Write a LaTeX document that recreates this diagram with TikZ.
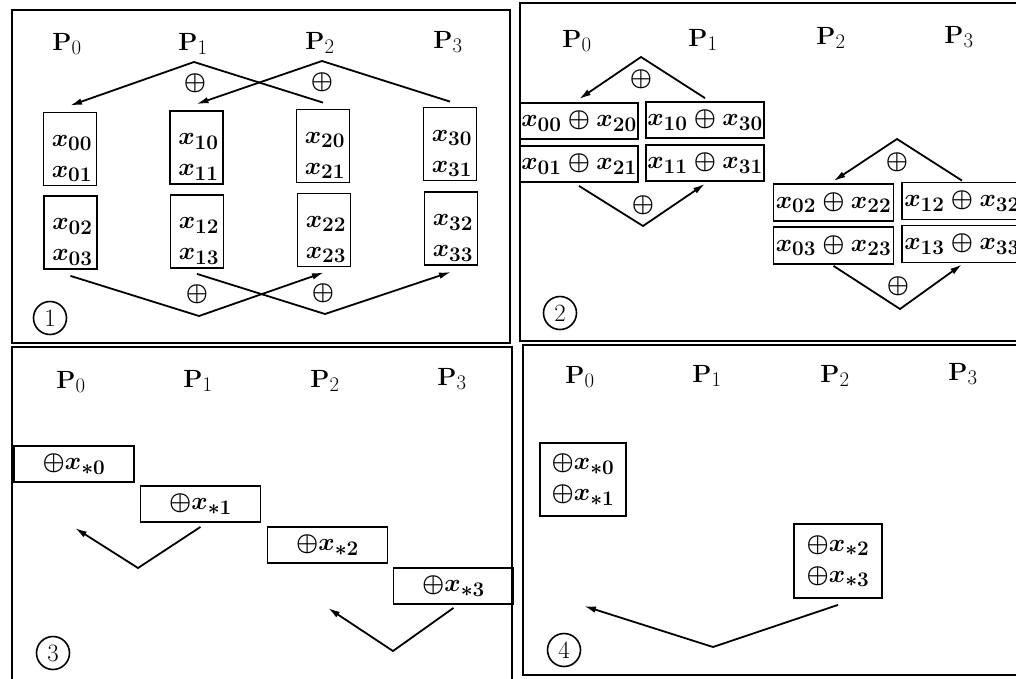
\documentclass[tikz,border=0pt]{standalone}
\usepackage{bm}
\usetikzlibrary{arrows.meta}
\begin{document}
\begin{tikzpicture}[x=1pt,y=-1pt,
  every node/.style={font=\fontsize{24.88}{31}\selectfont},
  frame/.style={line width=2.2pt},
  cell/.style={draw, line width=1.8pt, inner sep=0pt, align=center, font=\fontsize{24.88}{31}\selectfont\boldmath},
  tall/.style={cell, minimum width=53pt, minimum height=73pt, text width=44pt, align=right, execute at begin node={\rule{0pt}{30pt}}},
  wide/.style={cell, minimum width=118pt, minimum height=36pt},
  wider/.style={cell, minimum width=120pt, minimum height=37pt},
  lbl/.style={anchor=base},
  op/.style={inner sep=0pt, font=\fontsize{24.88}{31}\selectfont\boldmath},
  num/.style={draw, circle, line width=1.6pt, minimum size=33pt, inner sep=0pt},
  link/.style={line width=1.8pt},
  arr/.style={link, -{Latex[length=12pt,width=6.5pt]}},
]
\clip (0,0) rectangle (1016,678);
\fill[white] (0,0) rectangle (1016,678);

% ---------- frames ----------
\draw[frame] (12,10) rectangle (510,343);
\draw[frame] (520,3) rectangle (1030,341);
\draw[frame] (12,347) rectangle (512,690);
\draw[frame] (523,345) rectangle (1030,675);

% ---------- panel 1 ----------
\node[lbl] (p10) at (67,50) {$\mathbf{P}_0$};
\node[lbl] (p11) at (193,50) {$\mathbf{P}_1$};
\node[lbl] (p12) at (320,49) {$\mathbf{P}_2$};
\node[lbl] (p13) at (448,48) {$\mathbf{P}_3$};

\node[tall] (a00) at (70,149) {$x_{00}$\\$x_{01}$};
\node[tall] (a02) at (70.5,232.5) {$x_{02}$\\$x_{03}$};
\node[tall] (a10) at (196.5,147.5) {$x_{10}$\\$x_{11}$};
\node[tall] (a12) at (197,231.5) {$x_{12}$\\$x_{13}$};
\node[tall] (a20) at (323,146) {$x_{20}$\\$x_{21}$};
\node[tall] (a22) at (324,230) {$x_{22}$\\$x_{23}$};
\node[tall] (a30) at (450,144) {$x_{30}$\\$x_{31}$};
\node[tall] (a32) at (451,228.5) {$x_{32}$\\$x_{33}$};

\coordinate (t1) at (194,62);
\coordinate (t2) at (322,61);
\coordinate (b1) at (199,316);
\coordinate (b2) at (325,314);
\draw[arr] ([yshift=6pt]a20.north) -- (t1) -- ([yshift=6pt]a00.north);
\draw[arr] ([yshift=5pt]a30.north) -- (t2) -- ([yshift=6pt]a10.north);
\draw[arr] ([yshift=-6pt]a02.south) -- (b1) -- ([yshift=-5pt]a22.south);
\draw[arr] ([yshift=-5pt]a12.south) -- (b2) -- ([yshift=-6pt]a32.south);
\node[op] (o11) at (195,83) {$\oplus$};
\node[op] (o12) at (322,82) {$\oplus$};
\node[op] (o13) at (197,294) {$\oplus$};
\node[op] (o14) at (323,293) {$\oplus$};
\node[num] (n1) at (50,318) {1};

% ---------- panel 2 ----------
\node[lbl] (p20) at (577,47) {$\mathbf{P}_0$};
\node[lbl] (p21) at (703,46) {$\mathbf{P}_1$};
\node[lbl] (p22) at (831,44) {$\mathbf{P}_2$};
\node[lbl] (p23) at (959,43) {$\mathbf{P}_3$};

\node[wide] (c0) at (579,121) {$x_{00}\oplus x_{20}$};
\node[wide] (c1) at (705,120) {$x_{10}\oplus x_{30}$};
\node[wide] (c2) at (579,164) {$x_{01}\oplus x_{21}$};
\node[wide] (c3) at (705,163) {$x_{11}\oplus x_{31}$};
\node[wider] (d0) at (833.5,202.5) {$x_{02}\oplus x_{22}$};
\node[wider] (d1) at (962,201) {$x_{12}\oplus x_{32}$};
\node[wider] (d2) at (833.5,245.5) {$x_{03}\oplus x_{23}$};
\node[wider] (d3) at (962,244) {$x_{13}\oplus x_{33}$};

\coordinate (u1) at (641,57);
\coordinate (l1) at (643,226);
\coordinate (u2) at (897,139);
\coordinate (l2) at (900,309);
\draw[arr] ([yshift=3pt]c1.north) -- (u1) -- ([yshift=3pt]c0.north);
\draw[arr] ([yshift=-3pt]c2.south) -- (l1) -- ([yshift=-2pt]c3.south);
\draw[arr] ([yshift=1pt]d1.north) -- (u2) -- ([yshift=2pt]d0.north);
\draw[arr] ([yshift=-1pt]d2.south) -- (l2) -- ([yshift=-1pt]d3.south);
\node[op] (o21) at (641,79) {$\oplus$};
\node[op] (o22) at (643,205) {$\oplus$};
\node[op] (o23) at (897,162) {$\oplus$};
\node[op] (o24) at (898,286) {$\oplus$};
\node[num] (n2) at (560,313) {2};

% ---------- panel 3 ----------
\node[lbl] (p30) at (71,388) {$\mathbf{P}_0$};
\node[lbl] (p31) at (198,387) {$\mathbf{P}_1$};
\node[lbl] (p32) at (325,387) {$\mathbf{P}_2$};
\node[lbl] (p33) at (452,385) {$\mathbf{P}_3$};

\node[wide, minimum width=120pt] (e0) at (74,464) {$\oplus x_{*0}$};
\node[wide, minimum width=120pt] (e1) at (200.5,504) {$\oplus x_{*1}$};
\node[wide, minimum width=120pt] (e2) at (327.5,545) {$\oplus x_{*2}$};
\node[wide, minimum width=120pt] (e3) at (453.5,586) {$\oplus x_{*3}$};

\coordinate (v1) at (138,568);
\coordinate (e0t) at (75,528);
\coordinate (v2) at (393,651);
\coordinate (e2t) at (328,608);
\draw[arr] ([yshift=-4pt]e1.south) -- (v1) -- (e0t);
\draw[arr] ([yshift=-3pt]e3.south) -- (v2) -- (e2t);
\node[num] (n3) at (53,653) {3};

% ---------- panel 4 ----------
\node[lbl] (p40) at (580,383) {$\mathbf{P}_0$};
\node[lbl] (p41) at (707,382) {$\mathbf{P}_1$};
\node[lbl] (p42) at (835,382) {$\mathbf{P}_2$};
\node[lbl] (p43) at (963,380) {$\mathbf{P}_3$};

\node[cell, minimum width=86pt, minimum height=73pt] (f0) at (583,479.5) {$\oplus x_{*0}$\\$\oplus x_{*1}$};
\node[cell, minimum width=88pt, minimum height=74pt] (f1) at (838,561) {$\oplus x_{*2}$\\$\oplus x_{*3}$};

\coordinate (w) at (713,647);
\coordinate (f0t) at (584,606);
\draw[arr] ([yshift=-6pt]f1.south) -- (w) -- (f0t);
\node[num] (n4) at (564,650) {4};
\end{tikzpicture}
\end{document}
